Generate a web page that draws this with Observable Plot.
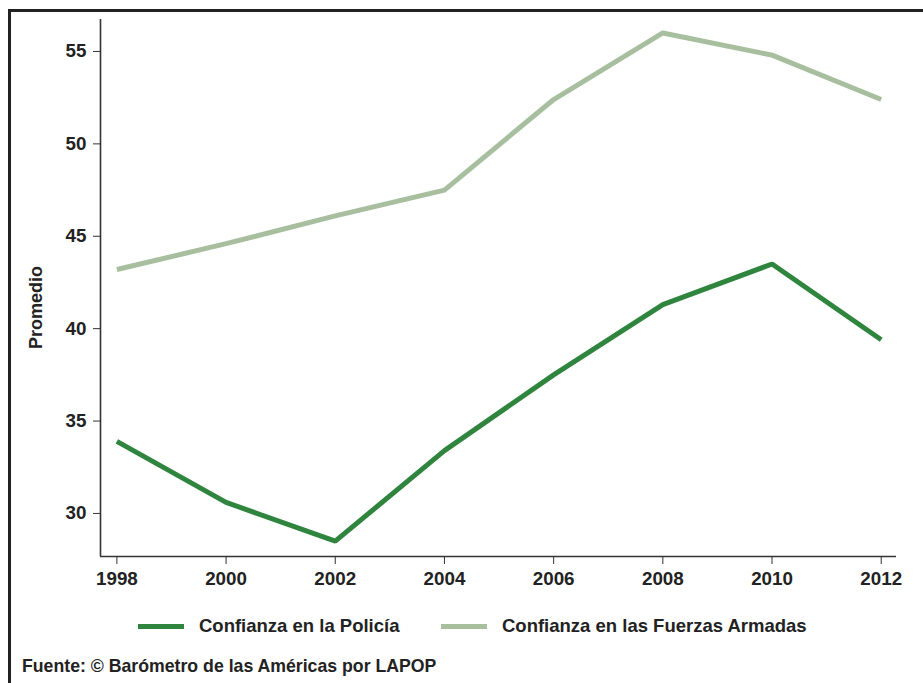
<!DOCTYPE html>
<html>
<head>
<meta charset="utf-8">
<script src="https://cdn.jsdelivr.net/npm/d3@7"></script>
<script src="https://cdn.jsdelivr.net/npm/@observablehq/plot@0.6"></script>
<style>
  html, body { margin: 0; padding: 0; background: #fff; }
  #wrap { position: relative; width: 923px; height: 683px; overflow: hidden; font-family: "Liberation Sans", Arial, sans-serif; font-weight: bold; color: #222; }
  #frame { position: absolute; left: 8px; top: 9px; width: 1000px; height: 1000px; border-left: 3px solid #222; border-top: 3px solid #222; box-sizing: border-box; }
  #chart { position: absolute; left: 0; top: 0; }
  #legend { position: absolute; left: 0; top: 612px; width: 923px; height: 30px; }
  .item { position: absolute; top: 0; display: flex; align-items: center; font-size: 18.5px; height: 28px; }
  .swatch { display: inline-block; width: 46px; height: 5px; margin-right: 15px; }
  #source { position: absolute; left: 22px; top: 656px; font-size: 17.7px; }
</style>
</head>
<body>
<div id="wrap">
  <div id="frame"></div>
  <div id="chart"></div>
  <div id="legend"></div>
  <div id="source">Fuente: © Barómetro de las Américas por LAPOP</div>
</div>
<script>
const years = [1998, 2000, 2002, 2004, 2006, 2008, 2010, 2012];
const policia = [33.9, 30.6, 28.5, 33.4, 37.5, 41.3, 43.5, 39.4];
const fuerzas = [43.2, 44.6, 46.1, 47.5, 52.4, 56.0, 54.8, 52.4];
const seriesNames = ["Confianza en la Policía", "Confianza en las Fuerzas Armadas"];
const seriesColors = ["#2f853e", "#a7bf9f"];
const yTicks = [30, 35, 40, 45, 50, 55];

const data = [];
years.forEach((y, i) => {
  data.push({year: y, value: policia[i], serie: seriesNames[0]});
  data.push({year: y, value: fuerzas[i], serie: seriesNames[1]});
});

const W = 923, H = 600;
const chart = Plot.plot({
  width: W,
  height: H,
  marginLeft: 100,
  marginRight: 27,
  marginTop: 19,
  marginBottom: 44,
  style: {fontFamily: "Liberation Sans, Arial, sans-serif", fontSize: "18.8px", fontWeight: "bold", color: "#222", background: "transparent"},
  x: {domain: [1997.7, 2012.28]},
  y: {domain: [27.67, 56.73]},
  color: {domain: seriesNames, range: seriesColors},
  marks: [
    Plot.axisX({ticks: years, tickFormat: d => String(d), tickSize: 8, tickPadding: 7, label: null, stroke: "#333"}),
    Plot.axisY({ticks: yTicks, tickSize: 7, tickPadding: 7, label: null, stroke: "#333"}),
    Plot.ruleY([27.67], {stroke: "#333", strokeWidth: 1.6}),
    Plot.ruleX([1997.7], {stroke: "#333", strokeWidth: 1.6}),
    Plot.line(data, {x: "year", y: "value", stroke: "serie", z: "serie", strokeWidth: 5, strokeLinejoin: "miter", strokeLinecap: "butt"}),
    Plot.text(["Promedio"], {frameAnchor: "left", dx: -64, rotate: -90, textAnchor: "middle", fontSize: 18, fontWeight: "bold", fill: "#222", y: () => 41.15})
  ]
});
document.getElementById("chart").appendChild(chart);

const legend = document.getElementById("legend");
const legendX = [138, 441];
seriesNames.forEach((name, i) => {
  const item = document.createElement("div");
  item.className = "item";
  item.style.left = legendX[i] + "px";
  const sw = document.createElement("span");
  sw.className = "swatch";
  sw.style.background = seriesColors[i];
  const t = document.createElement("span");
  t.textContent = name;
  item.appendChild(sw);
  item.appendChild(t);
  legend.appendChild(item);
});
</script>
</body>
</html>
